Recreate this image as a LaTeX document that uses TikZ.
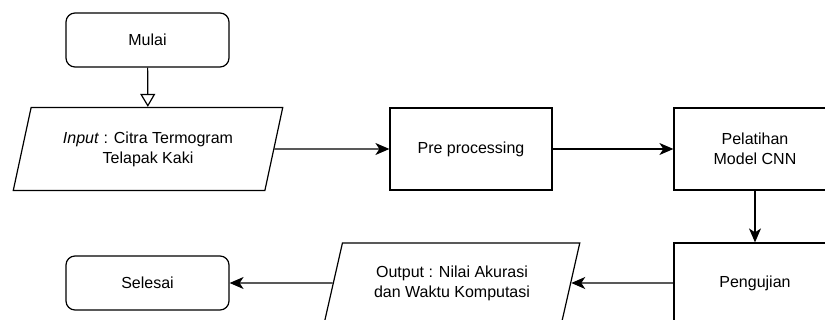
\documentclass[tikz,border=0pt]{standalone}
\usepackage{fontspec}
\setmainfont{Liberation Sans}
\usetikzlibrary{arrows.meta, positioning, shapes.geometric}

\begin{document}
\begin{tikzpicture}[x=1pt,y=-1pt,line width=1.2pt,
  font=\fontsize{16}{20}\selectfont,
  terminal/.style={draw,rounded corners=9pt,minimum width=163pt,minimum height=54pt,align=center},
  proses/.style={draw,minimum width=162pt,minimum height=82pt,align=center},
  io/.style={draw,trapezium,trapezium left angle=72,trapezium right angle=108,
    trapezium stretches=true,minimum width=270pt,minimum height=83pt,align=center},
  panah/.style={-{Stealth[length=14pt,width=12pt,inset=4pt]}},
  buka/.style={-{Triangle[open,length=13pt,width=15pt,fill=white]}}]
\useasboundingbox (0,0) rectangle (825,320);
\clip (0,0) rectangle (825,320);
% baris atas
\node[terminal] (mulai) at (147.5,40) {Mulai};
\node[io] (input) at (148,149) {\textit{Input} : Citra Termogram\\Telapak Kaki};
\node[proses] (prepro) at (471,149) {Pre processing};
\node[proses] (latih) at (755,149) {Pelatihan\\Model CNN};
% baris bawah
\node[proses,minimum height=80pt] (uji) at (755,283) {Pengujian};
\node[io,minimum width=256pt,minimum height=80pt] (output) at (452,283) {Output : Nilai Akurasi\\dan Waktu Komputasi};
\node[terminal] (selesai) at (147.5,283) {Selesai};
% alur
\draw[buka] (mulai) -- (input);
\draw[panah] (input.east) -- (prepro);
\draw[panah] (prepro) -- (latih);
\draw[panah] (latih) -- (uji);
\draw[panah] (uji) -- (output.east);
\draw[panah] (output.west) -- (selesai);
\end{tikzpicture}
\end{document}
